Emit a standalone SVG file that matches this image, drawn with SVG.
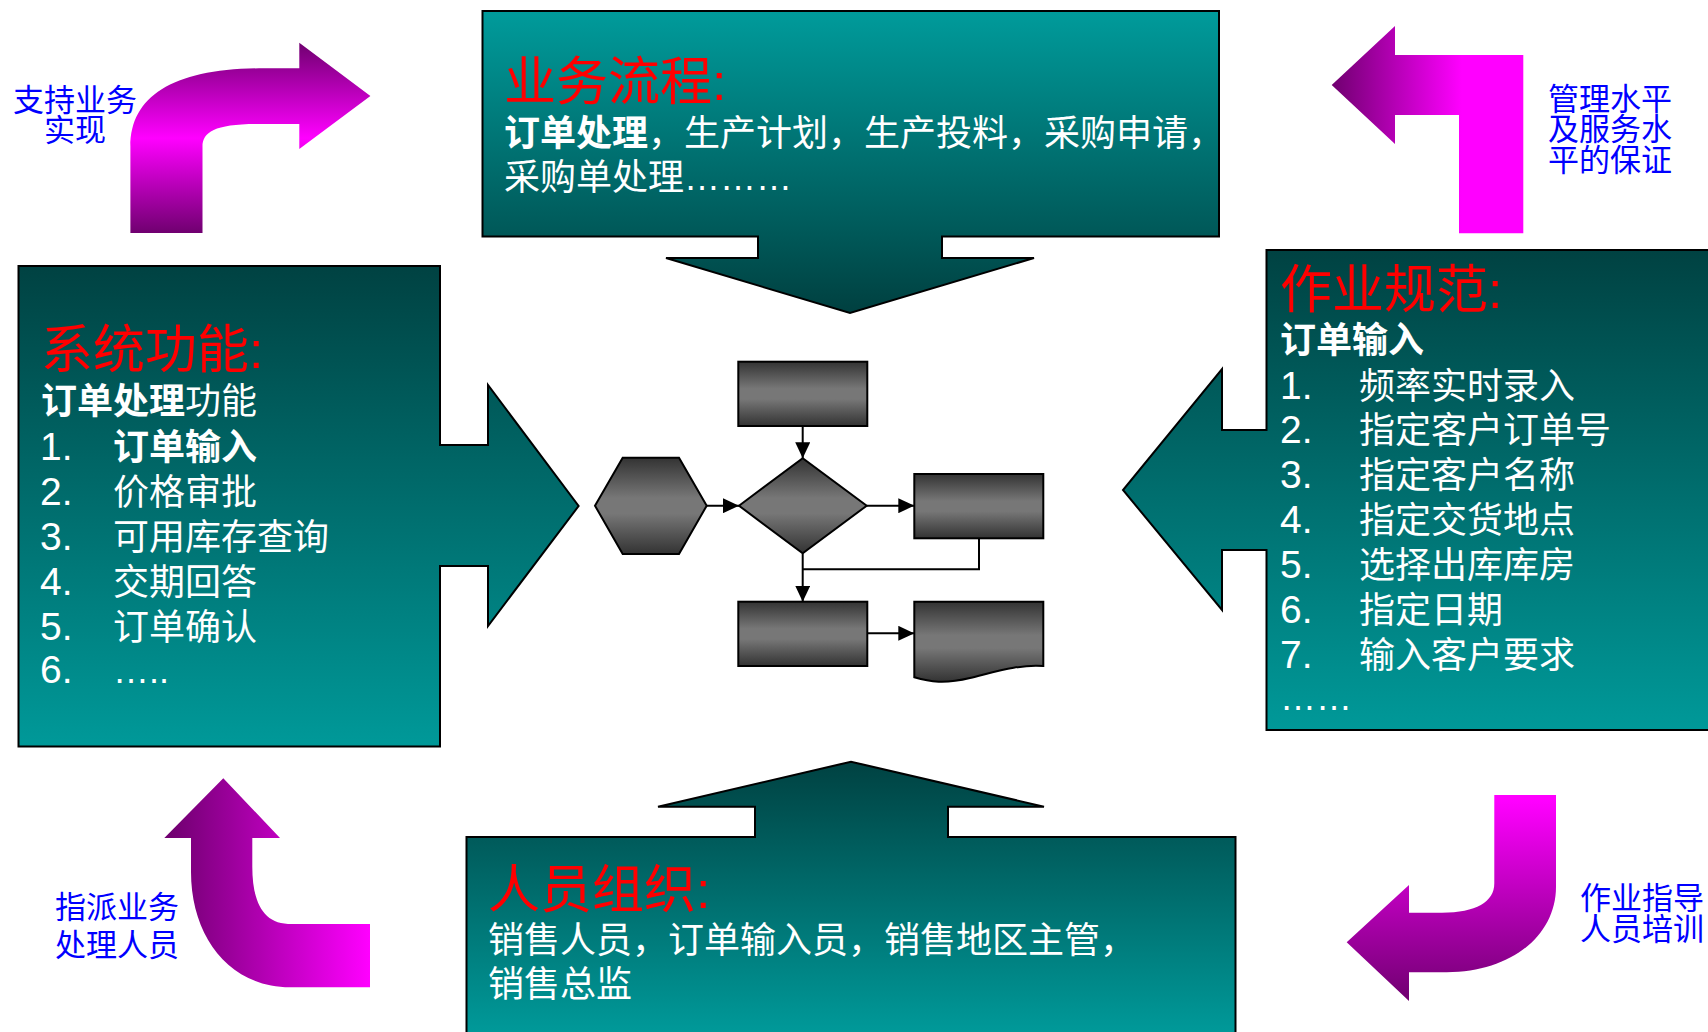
<svg xmlns="http://www.w3.org/2000/svg" width="1708" height="1032" viewBox="0 0 1708 1032">
<defs>
<linearGradient id="tealDown" gradientUnits="userSpaceOnUse" x1="0" y1="11" x2="0" y2="313">
<stop offset="0" stop-color="#009b9b"/><stop offset="0.72" stop-color="#005a5a"/><stop offset="1" stop-color="#004040"/>
</linearGradient>
<linearGradient id="tealLeft" gradientUnits="userSpaceOnUse" x1="0" y1="266" x2="0" y2="746">
<stop offset="0" stop-color="#004242"/><stop offset="1" stop-color="#009999"/>
</linearGradient>
<linearGradient id="tealRight" gradientUnits="userSpaceOnUse" x1="0" y1="250" x2="0" y2="730">
<stop offset="0" stop-color="#004242"/><stop offset="1" stop-color="#009999"/>
</linearGradient>
<linearGradient id="tealUp" gradientUnits="userSpaceOnUse" x1="0" y1="762" x2="0" y2="1032">
<stop offset="0" stop-color="#004242"/><stop offset="1" stop-color="#009999"/>
</linearGradient>
<linearGradient id="gray" x1="0" y1="0" x2="0" y2="1">
<stop offset="0" stop-color="#333"/><stop offset="0.42" stop-color="#777"/><stop offset="0.58" stop-color="#777"/><stop offset="1" stop-color="#333"/>
</linearGradient>
<linearGradient id="mag1" gradientUnits="userSpaceOnUse" x1="0" y1="43" x2="0" y2="233">
<stop offset="0" stop-color="#700070"/><stop offset="0.5" stop-color="#ff00ff"/><stop offset="1" stop-color="#700070"/>
</linearGradient>
<linearGradient id="mag2" gradientUnits="userSpaceOnUse" x1="1332" y1="0" x2="1462" y2="0">
<stop offset="0" stop-color="#700070"/><stop offset="1" stop-color="#ff00ff"/>
</linearGradient>
<linearGradient id="mag3" gradientUnits="userSpaceOnUse" x1="170" y1="0" x2="370" y2="0">
<stop offset="0" stop-color="#700070"/><stop offset="1" stop-color="#ff00ff"/>
</linearGradient>
<linearGradient id="mag4" gradientUnits="userSpaceOnUse" x1="0" y1="800" x2="0" y2="1001">
<stop offset="0" stop-color="#ff00ff"/><stop offset="1" stop-color="#700070"/>
</linearGradient>
<marker id="ah" markerUnits="userSpaceOnUse" markerWidth="16" markerHeight="15" refX="16" refY="7.5" orient="auto">
<path d="M0,0 L16,7.5 L0,15 Z" fill="#000"/>
</marker>
<style>
.box{stroke:#000;stroke-width:2}
.fc{fill:url(#gray);stroke:#000;stroke-width:2}
.con{fill:none;stroke:#000;stroke-width:2}
.t{font-family:"Liberation Sans","Noto Sans CJK SC",sans-serif;fill:#fff;font-size:36px}
.title{font-family:"Liberation Sans","Noto Sans CJK SC",sans-serif;fill:#ff0000;font-size:52px}
.b{font-weight:bold}
.num{font-size:39px}
.lab{font-family:"Noto Sans CJK SC",sans-serif;fill:#0000ff;font-size:31px}
</style>
</defs>
<rect width="1708" height="1032" fill="#fff"/>

<g id="arrow-support">
<path d="M130.4,233 V146.7 C130.4,95 175,68.3 264,68.3 H299.3 V42.7 L370.4,96 L299.3,149 V124 H257 C215,124 202.5,132 202.5,146.7 V233 Z" fill="url(#mag1)"/>
<text class="lab" text-anchor="middle"><tspan x="75" y="111">支持业务</tspan><tspan x="75" y="141">实现</tspan></text>
</g>

<g id="arrow-guarantee">
<path d="M1331.7,85 L1395,26 V55 H1523.3 V233.3 H1459 V115 H1395 V144 Z" fill="url(#mag2)"/>
<text class="lab"><tspan x="1548" y="110">管理水平</tspan><tspan x="1548" y="140">及服务水</tspan><tspan x="1548" y="171">平的保证</tspan></text>
</g>

<g id="arrow-assign">
<path d="M191,838 H164.3 L223.3,778.3 L280,838 H252.3 V866.7 C252.3,900 262,923 288,924 H370 V987.3 H290 C228,987 191,935 191,872 Z" fill="url(#mag3)"/>
<text class="lab"><tspan x="55" y="918">指派业务</tspan><tspan x="55" y="956">处理人员</tspan></text>
</g>

<g id="arrow-training">
<path d="M1494.3,795 H1556 V886.7 C1556,935 1512,972 1446.7,972.3 H1409 V1001 L1346.7,942.3 L1409,885 V912.7 H1442 C1476,912.7 1494.3,902 1494.3,883.3 Z" fill="url(#mag4)"/>
<text class="lab"><tspan x="1580" y="909">作业指导</tspan><tspan x="1580" y="940">人员培训</tspan></text>
</g>

<g id="node-process">
<path class="box" fill="url(#tealDown)" d="M482.5,11 H1219 V236.5 H942 V258 H1034 L850,313 L666,258 H758 V236.5 H482.5 Z"/>
<text class="title" x="504" y="100">业务流程:</text>
<text class="t" x="504" y="146"><tspan class="b">订单处理</tspan>，生产计划，生产投料，采购申请，</text>
<text class="t" x="504" y="190">采购单处理………</text>
</g>

<g id="node-function">
<path class="box" fill="url(#tealLeft)" d="M18.5,266 H440 V445 H488 V385 L578.6,506 L488,626 V566 H440 V746.5 H18.5 Z"/>
<text class="title" x="41" y="368">系统功能:</text>
<text class="t" x="41" y="414"><tspan class="b">订单处理</tspan>功能</text>
<text class="t" x="40" y="460"><tspan class="num">1.</tspan><tspan class="b" x="113">订单输入</tspan></text>
<text class="t" x="40" y="505"><tspan class="num">2.</tspan><tspan x="113">价格审批</tspan></text>
<text class="t" x="40" y="550"><tspan class="num">3.</tspan><tspan x="113">可用库存查询</tspan></text>
<text class="t" x="40" y="595"><tspan class="num">4.</tspan><tspan x="113">交期回答</tspan></text>
<text class="t" x="40" y="640"><tspan class="num">5.</tspan><tspan x="113">订单确认</tspan></text>
<text class="t" x="40" y="683"><tspan class="num">6.</tspan><tspan x="113">…..</tspan></text>
</g>

<g id="node-standard">
<path class="box" fill="url(#tealRight)" d="M1266.5,250 H1720 V730 H1266.5 V550 H1222 V610 L1123,490 L1222,369 V430 H1266.5 Z"/>
<text class="title" x="1280" y="308">作业规范:</text>
<text class="t b" x="1280" y="353">订单输入</text>
<text class="t" x="1280" y="399"><tspan class="num">1.</tspan><tspan x="1359">频率实时录入</tspan></text>
<text class="t" x="1280" y="443"><tspan class="num">2.</tspan><tspan x="1359">指定客户订单号</tspan></text>
<text class="t" x="1280" y="488"><tspan class="num">3.</tspan><tspan x="1359">指定客户名称</tspan></text>
<text class="t" x="1280" y="533"><tspan class="num">4.</tspan><tspan x="1359">指定交货地点</tspan></text>
<text class="t" x="1280" y="578"><tspan class="num">5.</tspan><tspan x="1359">选择出库库房</tspan></text>
<text class="t" x="1280" y="623"><tspan class="num">6.</tspan><tspan x="1359">指定日期</tspan></text>
<text class="t" x="1280" y="668"><tspan class="num">7.</tspan><tspan x="1359">输入客户要求</tspan></text>
<text class="t" x="1280" y="710">……</text>
</g>

<g id="node-staff">
<path class="box" fill="url(#tealUp)" d="M466.5,837 H755 V806.7 H658 L851,761.7 L1044,806.7 H948 V837 H1235.5 V1040 H466.5 Z"/>
<text class="title" x="488" y="908">人员组织:</text>
<text class="t" x="488" y="953">销售人员，订单输入员，销售地区主管，</text>
<text class="t" x="488" y="997">销售总监</text>
</g>

<g id="flow-top"><rect class="fc" x="738.3" y="361.7" width="129" height="64.3"/></g>
<g id="flow-hex"><polygon class="fc" points="595,505.7 622.7,457.7 679,457.7 706.7,505.7 679,554 622.7,554"/></g>
<g id="flow-decision"><polygon class="fc" points="739,505.7 802.7,458.3 866.7,505.7 802.7,553.3"/></g>
<g id="flow-right"><rect class="fc" x="914.3" y="474" width="129" height="64.3"/></g>
<g id="flow-bottom"><rect class="fc" x="738.3" y="601.7" width="129" height="64.3"/></g>
<g id="flow-doc"><path class="fc" d="M914.3,601.7 H1043.3 V666 C1020,664 995,672 970,678 C945,684 930,682 914.3,677.3 Z"/></g>

<g id="connectors">
<line class="con" x1="802.7" y1="426" x2="802.7" y2="458.3" marker-end="url(#ah)"/>
<line class="con" x1="706.7" y1="505.7" x2="739" y2="505.7" marker-end="url(#ah)"/>
<line class="con" x1="866.7" y1="505.7" x2="914.3" y2="505.7" marker-end="url(#ah)"/>
<line class="con" x1="802.7" y1="553.3" x2="802.7" y2="601.7" marker-end="url(#ah)"/>
<polyline class="con" points="979,538.3 979,569.3 802.7,569.3"/>
<line class="con" x1="867.3" y1="633.3" x2="914.3" y2="633.3" marker-end="url(#ah)"/>
</g>
</svg>
